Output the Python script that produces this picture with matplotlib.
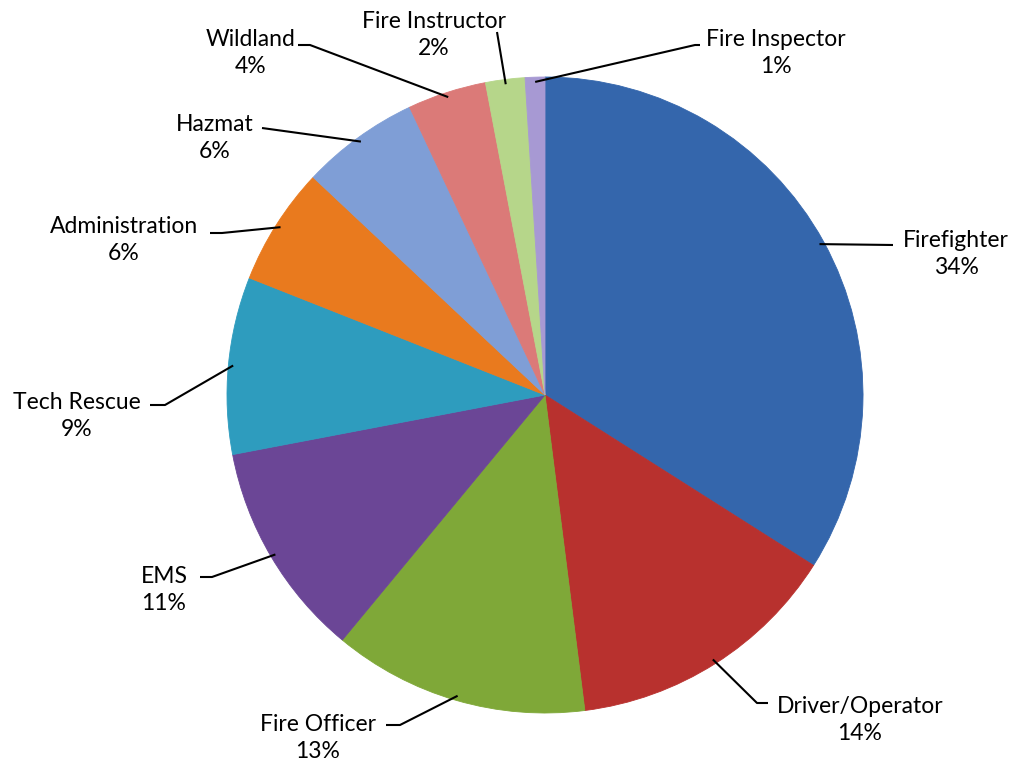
import numpy as np
import matplotlib.pyplot as plt

labels = ["Firefighter", "Driver/Operator", "Fire Officer", "EMS", "Tech Rescue",
          "Administration", "Hazmat", "Wildland", "Fire Instructor", "Fire Inspector"]
values = [34, 14, 13, 11, 9, 6, 6, 4, 2, 1]
colors = ["#3466ac", "#b8312e", "#7fa838", "#6b4696", "#2e9cbe",
          "#e97a1e", "#7f9ed6", "#db7a78", "#b6d68a", "#a799d3"]

W, H = 1018, 768
cx, cy, R = 545, H - 395, 318

# label block centres and leader line bend points, in pixel coords (y down)
label_pos = [(956, 254), (860, 720), (318, 738), (164, 590), (77, 416),
             (124, 240), (215, 138), (251, 53), (434, 35), (776, 53)]
leader_pts = [
    [(893, 245)],
    [(757, 703), (768, 703)],
    [(400, 725), (386, 725)],
    [(212, 577), (200, 577)],
    [(165, 405), (150, 405)],
    [(222, 233), (210, 233)],
    [(262, 128)],
    [(310, 45), (298, 45)],
    [(497, 32)],
    [(695, 45), (700, 45)],
]

fig = plt.figure(figsize=(W / 100, H / 100), dpi=100)
ax = fig.add_axes([0, 0, 1, 1])

wedges, _ = ax.pie(values, colors=colors, startangle=90, counterclock=False,
                   center=(cx, cy), radius=R, frame=True,
                   wedgeprops=dict(linewidth=0))
for w, c in zip(wedges, colors):
    w.set_edgecolor(c)
    w.set_linewidth(0.6)
ax.set_xlim(0, W)
ax.set_ylim(0, H)
ax.set_aspect("equal")
ax.axis("off")

for w, lab, v, (tx, ty), pts in zip(wedges, labels, values, label_pos, leader_pts):
    mid = np.deg2rad((w.theta1 + w.theta2) / 2)
    ex = cx + 0.985 * R * np.cos(mid)
    ey = cy + 0.985 * R * np.sin(mid)
    xs = [ex] + [p[0] for p in pts]
    ys = [ey] + [H - p[1] for p in pts]
    ax.plot(xs, ys, color="black", lw=1.5, solid_capstyle="butt")
    ax.text(tx, H - ty, f"{lab}\n{v}%", ha="center", va="center",
            fontsize=16.5, family="Lato", linespacing=1.35)

fig.savefig("out.png", dpi=100)
